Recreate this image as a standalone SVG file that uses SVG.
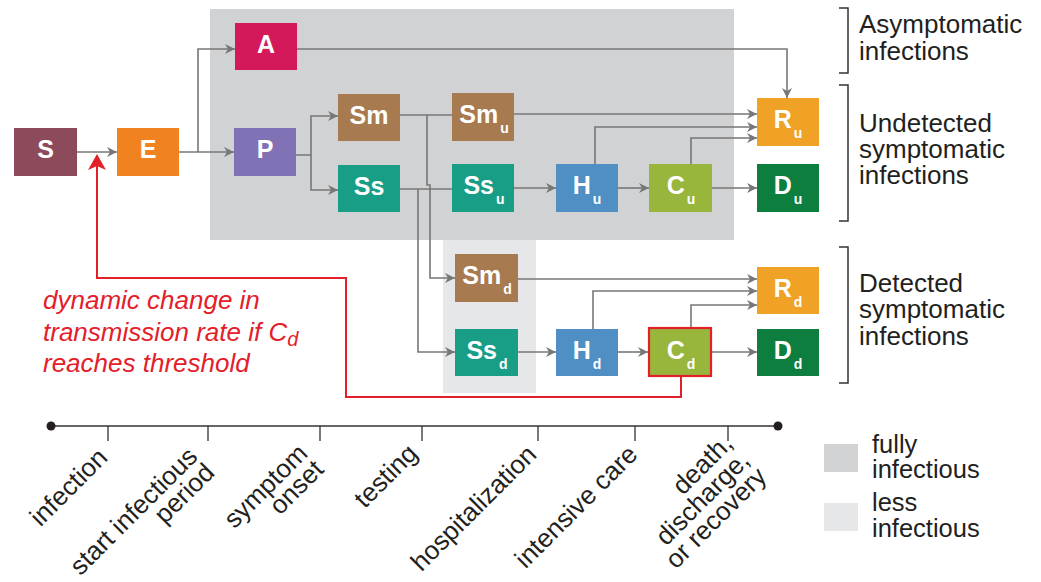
<svg xmlns="http://www.w3.org/2000/svg" width="1041" height="582" viewBox="0 0 1041 582">
<style>
.lbl{font-family:"Liberation Sans",Arial,sans-serif;font-weight:bold;font-size:25px;fill:#fff;text-anchor:middle}
.sub{font-size:14px}
.con{fill:none;stroke:#777;stroke-width:1.6}
.txt{font-family:"Liberation Sans",Arial,sans-serif;font-size:26px;fill:#231f20}
.leg{font-family:"Liberation Sans",Arial,sans-serif;font-size:25.5px;fill:#231f20}
.tl{font-family:"Liberation Sans",Arial,sans-serif;font-size:26px;fill:#231f20;text-anchor:end}
.br{fill:none;stroke:#333;stroke-width:1.5}
.red{font-family:"Liberation Sans",Arial,sans-serif;font-size:26px;font-style:italic;fill:#e3202a}
</style>
<defs>
<marker id="ah" markerUnits="userSpaceOnUse" markerWidth="10" markerHeight="10" refX="10" refY="5" orient="auto">
<path d="M0,0 L10,5 L0,10 L3,5 z" fill="#777"/>
</marker>
</defs>
<rect width="1041" height="582" fill="#fff"/>
<g id="backgrounds">
<rect x="210" y="9" width="524" height="231" fill="#d1d2d4"/>
<rect x="443" y="240" width="93" height="153" fill="#e6e7e8"/>
</g>
<g id="connectors">
<path class="con" d="M77,152 H117" marker-end="url(#ah)"/>
<path class="con" d="M179,152 H234" marker-end="url(#ah)"/>
<path class="con" d="M198,152 V49 H235" marker-end="url(#ah)"/>
<path class="con" d="M296,155 H311 V116 H338" marker-end="url(#ah)"/>
<path class="con" d="M311,155 V190 H338" marker-end="url(#ah)"/>
<path class="con" d="M400,115 H452"/>
<path class="con" d="M427,115 V185 H430 V278 H455" marker-end="url(#ah)"/>
<path class="con" d="M400,189 H452"/>
<path class="con" d="M418,189 V352 H455" marker-end="url(#ah)"/>
<path class="con" d="M297,49 H787 V98" marker-end="url(#ah)"/>
<path class="con" d="M514,114 H757" marker-end="url(#ah)"/>
<path class="con" d="M595,164 V127 H757" marker-end="url(#ah)"/>
<path class="con" d="M691,164 V138 H757" marker-end="url(#ah)"/>
<path class="con" d="M514,188 H556" marker-end="url(#ah)"/>
<path class="con" d="M618,188 H649" marker-end="url(#ah)"/>
<path class="con" d="M712,188 H757" marker-end="url(#ah)"/>
<path class="con" d="M518,279 H757" marker-end="url(#ah)"/>
<path class="con" d="M593,329 V291 H757" marker-end="url(#ah)"/>
<path class="con" d="M691,327 V305 H757" marker-end="url(#ah)"/>
<path class="con" d="M518,352 H556" marker-end="url(#ah)"/>
<path class="con" d="M618,352 H648" marker-end="url(#ah)"/>
<path class="con" d="M712,352 H757" marker-end="url(#ah)"/>
<path d="M681,377 V397 H346 V278 H97 V164" fill="none" stroke="#e3202a" stroke-width="2"/>
<path d="M97,154 L106,170 L97,166 L88,170 z" fill="#e3202a"/>
</g>
<g id="S"><rect x="14" y="128" width="63" height="48" fill="#8c4a5b"/><text class="lbl" x="45.5" y="158">S</text></g>
<g id="E"><rect x="117" y="128" width="62" height="48" fill="#f0821f"/><text class="lbl" x="148" y="158">E</text></g>
<g id="A"><rect x="235" y="23" width="62" height="47" fill="#d4195b"/><text class="lbl" x="266" y="53">A</text></g>
<g id="P"><rect x="234" y="128" width="62" height="48" fill="#8171b5"/><text class="lbl" x="265" y="158">P</text></g>
<g id="Sm"><rect x="338" y="94" width="62" height="47" fill="#a87a4f"/><text class="lbl" x="369" y="124">Sm</text></g>
<g id="Ss"><rect x="338" y="165" width="62" height="47" fill="#189e87"/><text class="lbl" x="369" y="195">Ss</text></g>
<g id="Sm_u"><rect x="452" y="93" width="62" height="48" fill="#a87a4f"/><text class="lbl" x="484" y="123">Sm<tspan class="sub" dx="2" dy="10">u</tspan></text></g>
<g id="Ss_u"><rect x="452" y="164" width="62" height="48" fill="#189e87"/><text class="lbl" x="484" y="194">Ss<tspan class="sub" dx="2" dy="10">u</tspan></text></g>
<g id="H_u"><rect x="556" y="164" width="62" height="48" fill="#4f8fc4"/><text class="lbl" x="587" y="194">H<tspan class="sub" dx="2" dy="10">u</tspan></text></g>
<g id="C_u"><rect x="649" y="164" width="63" height="48" fill="#98b53c"/><text class="lbl" x="681" y="194">C<tspan class="sub" dx="2" dy="10">u</tspan></text></g>
<g id="R_u"><rect x="757" y="98" width="62" height="48" fill="#efa225"/><text class="lbl" x="788" y="128">R<tspan class="sub" dx="2" dy="10">u</tspan></text></g>
<g id="D_u"><rect x="757" y="164" width="62" height="48" fill="#0e7e3f"/><text class="lbl" x="788" y="194">D<tspan class="sub" dx="2" dy="10">u</tspan></text></g>
<g id="Sm_d"><rect x="455" y="254" width="63" height="48" fill="#a87a4f"/><text class="lbl" x="487" y="284">Sm<tspan class="sub" dx="2" dy="10">d</tspan></text></g>
<g id="Ss_d"><rect x="455" y="329" width="63" height="47" fill="#189e87"/><text class="lbl" x="487" y="359">Ss<tspan class="sub" dx="2" dy="10">d</tspan></text></g>
<g id="H_d"><rect x="556" y="329" width="62" height="47" fill="#4f8fc4"/><text class="lbl" x="587" y="359">H<tspan class="sub" dx="2" dy="10">d</tspan></text></g>
<g id="C_d"><rect x="649" y="328" width="62" height="48" fill="#98b53c" stroke="#e3202a" stroke-width="2.2"/><text class="lbl" x="681" y="359">C<tspan class="sub" dx="2" dy="10">d</tspan></text></g>
<g id="R_d"><rect x="757" y="267" width="62" height="47" fill="#efa225"/><text class="lbl" x="788" y="297">R<tspan class="sub" dx="2" dy="10">d</tspan></text></g>
<g id="D_d"><rect x="757" y="329" width="62" height="47" fill="#0e7e3f"/><text class="lbl" x="788" y="359">D<tspan class="sub" dx="2" dy="10">d</tspan></text></g>
<g id="brackets">
<path class="br" d="M839,8 H848 V73 H839"/>
<path class="br" d="M839,85 H848 V221 H839"/>
<path class="br" d="M839,247 H848 V383 H839"/>
<text class="txt" x="859" y="33">Asymptomatic<tspan x="859" y="60">infections</tspan></text>
<text class="txt" x="859" y="132">Undetected<tspan x="859" y="158">symptomatic</tspan><tspan x="859" y="184">infections</tspan></text>
<text class="txt" x="859" y="292">Detected<tspan x="859" y="318">symptomatic</tspan><tspan x="859" y="345">infections</tspan></text>
</g>
<g id="note">
<text class="red" x="43" y="309">dynamic change in<tspan x="43" y="341">transmission rate if C</tspan><tspan font-size="20" y="346">d</tspan><tspan x="43" y="372">reaches threshold</tspan></text>
</g>
<g id="timeline">
<line x1="51" y1="426" x2="778" y2="426" stroke="#333" stroke-width="1.5"/>
<circle cx="51" cy="426" r="4.5" fill="#231f20"/>
<circle cx="778" cy="426" r="4.5" fill="#231f20"/>
<path d="M108,426 V441 M208,426 V441 M320,426 V441 M422,426 V441 M538,426 V441 M635,426 V441 M728,426 V441" stroke="#333" stroke-width="1.3" fill="none"/>
<text class="tl" transform="translate(109,459) rotate(-45)">infection</text>
<text class="tl" transform="translate(199,458) rotate(-45)">start infectious<tspan x="0.7" y="23.3">period</tspan></text>
<text class="tl" transform="translate(309,455) rotate(-45)">symptom<tspan x="0" y="22.6">onset</tspan></text>
<text class="tl" transform="translate(419,455) rotate(-45)">testing</text>
<text class="tl" transform="translate(538,456) rotate(-45)">hospitalization</text>
<text class="tl" transform="translate(639,456) rotate(-45)">intensive care</text>
<text class="tl" transform="translate(734,445) rotate(-45)">death,<tspan x="0" y="24">discharge,</tspan><tspan x="0.7" y="47.3">or recovery</tspan></text>
</g>
<g id="legend">
<rect x="824" y="444" width="34" height="28" fill="#d1d2d4"/>
<rect x="824" y="503" width="34" height="28" fill="#e6e7e8"/>
<text class="leg" x="872" y="453">fully<tspan x="872" y="478">infectious</tspan></text>
<text class="leg" x="872" y="511">less<tspan x="872" y="537">infectious</tspan></text>
</g>
</svg>
